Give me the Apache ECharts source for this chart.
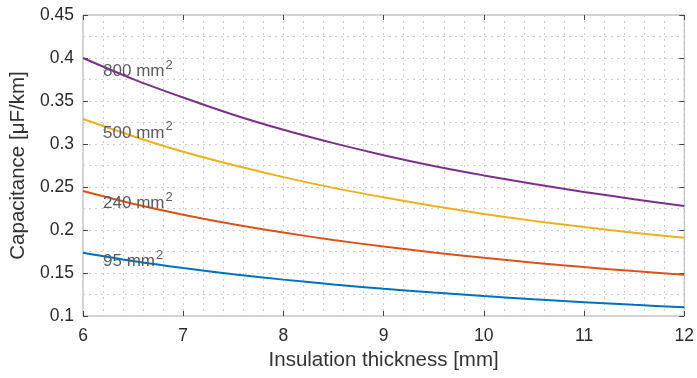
<!DOCTYPE html>
<html>
<head>
<meta charset="utf-8">
<script src="https://cdn.jsdelivr.net/npm/echarts@6/dist/echarts.min.js"></script>
<style>
    html, body { margin: 0; padding: 0; background: #fff; }
    #chart { width: 697px; height: 378px; }
</style>
</head>
<body>
<div id="chart"></div>
<script>
// insulation thickness [mm]
const thickness = [6, 6.5, 7, 7.5, 8, 8.5, 9, 9.5, 10, 10.5, 11, 11.5, 12];

// capacitance [uF/km] per conductor cross-section
const cap800 = [0.400, 0.3755, 0.354, 0.334, 0.3165, 0.301, 0.287, 0.2745, 0.2635, 0.2535, 0.2443, 0.2358, 0.2278];
const cap500 = [0.329, 0.309, 0.291, 0.2755, 0.2615, 0.249, 0.238, 0.2278, 0.2187, 0.2106, 0.2034, 0.1969, 0.191];
const cap240 = [0.2453, 0.2305, 0.2178, 0.2067, 0.197, 0.1884, 0.1807, 0.1739, 0.1677, 0.162, 0.1569, 0.1522, 0.148];
const cap95 = [0.1736, 0.164, 0.1558, 0.1486, 0.1423, 0.1367, 0.1317, 0.1272, 0.1232, 0.1195, 0.1161, 0.113, 0.1102];

const seriesNames = ['800', '500', '240', '95'];
const seriesColors = ['#7E2F8E', '#EDB120', '#D95319', '#0072BD'];
const seriesValues = [cap800, cap500, cap240, cap95];

// where the curve labels sit (data coords)
const labelX = 6.2;
const labelY = [0.384, 0.313, 0.231, 0.164];

const chart = echarts.init(document.getElementById('chart'));

const font = 'Liberation Sans, Arial, sans-serif';
const gridDash = { color: '#d0d0d0', type: [2, 4], width: 1 };

const options = {
    animation: false,
    grid: {
        left: 83,
        right: 10,
        top: 15,
        bottom: 62,
        show: true,
        borderColor: '#a8a8a8',
        borderWidth: 1
    },
    xAxis: [
        {
            type: 'value',
            min: 6,
            max: 12,
            interval: 1,
            name: 'Insulation thickness [mm]',
            nameLocation: 'middle',
            nameGap: 33,
            nameTextStyle: { fontFamily: font, fontSize: 20.5, color: '#333' },
            axisLine: { show: false },
            axisTick: { inside: true, length: 5, lineStyle: { color: '#444' } },
            axisLabel: { fontFamily: font, fontSize: 17.5, color: '#2a2a2a', margin: 11 },
            splitLine: { show: true, lineStyle: gridDash },
            minorTick: { show: false, splitNumber: 5 },
            minorSplitLine: { show: true, lineStyle: gridDash }
        },
        {
            type: 'value',
            position: 'top',
            min: 6,
            max: 12,
            interval: 1,
            axisLine: { show: false },
            axisTick: { inside: true, length: 5, lineStyle: { color: '#444' } },
            axisLabel: { show: false },
            splitLine: { show: false }
        }
    ],
    yAxis: [
        {
            type: 'value',
            min: 0.1,
            max: 0.45,
            interval: 0.05,
            name: 'Capacitance [\u03bcF/km]',
            nameLocation: 'middle',
            nameGap: 43,
            nameTextStyle: { fontFamily: font, fontSize: 20.5, color: '#333' },
            axisLine: { show: false },
            axisTick: { inside: true, length: 5, lineStyle: { color: '#444' } },
            axisLabel: { fontFamily: font, fontSize: 17.5, color: '#2a2a2a', margin: 9 },
            splitLine: { show: true, lineStyle: gridDash },
            minorTick: { show: false, splitNumber: 2 },
            minorSplitLine: { show: true, lineStyle: gridDash }
        },
        {
            type: 'value',
            position: 'right',
            min: 0.1,
            max: 0.45,
            interval: 0.05,
            axisLine: { show: false },
            axisTick: { inside: true, length: 5, lineStyle: { color: '#444' } },
            axisLabel: { show: false },
            splitLine: { show: false }
        }
    ],
    series: seriesValues.map((vals, k) => ({
        name: seriesNames[k] + ' mm2',
        type: 'line',
        xAxisIndex: 0,
        yAxisIndex: 0,
        smooth: 0.3,
        showSymbol: false,
        symbol: 'none',
        lineStyle: { color: seriesColors[k], width: 2 },
        data: thickness.map((t, i) => [t, vals[i]]),
        markPoint: {
            symbol: 'circle',
            symbolSize: 0,
            silent: true,
            label: {
                show: true,
                position: 'right',
                distance: 0,
                formatter: seriesNames[k] + ' mm{sup|2}',
                fontFamily: font,
                fontSize: 17,
                color: '#5c5c5c',
                rich: {
                    sup: { fontFamily: font, fontSize: 13, color: '#5c5c5c', verticalAlign: 'bottom', padding: [0, 0, 12, 1] }
                }
            },
            data: [{ coord: [labelX, labelY[k]] }]
        }
    }))
};

chart.setOption(options);
</script>
</body>
</html>
